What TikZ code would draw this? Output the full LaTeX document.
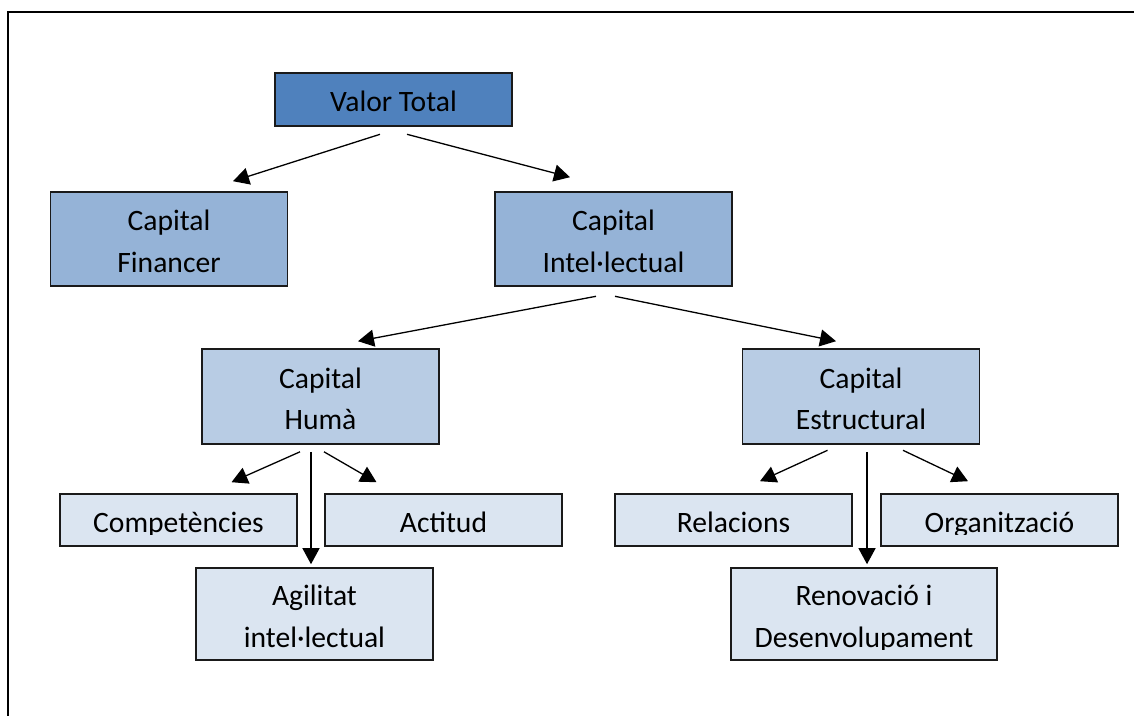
\documentclass[tikz,border=0pt]{standalone}
\usepackage{fontspec}
\setmainfont{Carlito}
\usetikzlibrary{arrows.meta,calc}
\definecolor{accentA}{HTML}{4F81BD}
\definecolor{tintB}{HTML}{95B3D7}
\definecolor{tintC}{HTML}{B8CCE4}
\definecolor{tintD}{HTML}{DBE5F1}
\definecolor{edge}{HTML}{1A1A1A}
\begin{document}
\begin{tikzpicture}[x=1pt,y=-1pt,
  box/.style={rectangle,draw=edge,line width=1.6pt,minimum width=237pt,inner sep=0pt},
  short/.style={box,minimum height=52pt},
  tall/.style={box,minimum height=94pt},
  txt/.style={font=\fontsize{29.6}{35}\selectfont,anchor=base,inner sep=0pt},
  link/.style={line width=1.3pt,-{Triangle[length=16pt,width=17pt]}}]
\useasboundingbox (0,0) rectangle (1134,715);

% outer frame (runs past the right and bottom edges)
\draw[line width=2.2pt] (8,730) -- (8,12) -- (1150,12);

% boxes
\node[short,fill=accentA,minimum height=53pt] (vt) at (393.5,99.5) {};
\node[tall,fill=tintB] (cf) at (169,239) {};
\node[tall,fill=tintB] (ci) at (613.5,239) {};
\node[tall,fill=tintC,minimum height=95pt] (ch) at (320.5,396.5) {};
\node[tall,fill=tintC,minimum height=95pt] (ce) at (861,396.5) {};
\node[short,fill=tintD] (comp) at (178.5,520) {};
\node[short,fill=tintD] (act) at (443.5,520) {};
\node[short,fill=tintD] (rel) at (733.5,520) {};
\node[short,fill=tintD] (org) at (999.5,520) {};
\node[tall,fill=tintD,minimum height=92pt] (agi) at (314.5,614) {};
\node[tall,fill=tintD,minimum height=92pt,minimum width=266pt] (ren) at (864,614) {};

% box texts
\node[txt] at ($(vt.center)+(0,12.2)$) {Valor Total};
\node[txt] at ($(cf.center)+(0,-9)$) {Capital};
\node[txt] at ($(cf.center)+(0,33)$) {Financer};
\node[txt] at ($(ci.center)+(0,-9)$) {Capital};
\node[txt] at ($(ci.center)+(0,33)$) {Intel·lectual};
\node[txt] at ($(ch.center)+(0,-8.5)$) {Capital};
\node[txt] at ($(ch.center)+(0,33.2)$) {Humà};
\node[txt] at ($(ce.center)+(0,-8.5)$) {Capital};
\node[txt] at ($(ce.center)+(0,33.2)$) {Estructural};
\begin{scope}
  \clip (comp.north west) rectangle ($(comp.east)+(0,14)$);
  \node[txt] at ($(comp.center)+(0,12)$) {Competències};
\end{scope}
\node[txt] at ($(act.center)+(0,12)$) {Actitud};
\node[txt] at ($(rel.center)+(0,12)$) {Relacions};
\begin{scope}
  \clip (org.north west) rectangle ($(org.east)+(0,14)$);
  \node[txt] at ($(org.center)+(0,12)$) {Organització};
\end{scope}
\node[txt] at ($(agi.center)+(0,-9)$) {Agilitat};
\node[txt] at ($(agi.center)+(0,33)$) {intel·lectual};
\node[txt] at ($(ren.center)+(0,-9)$) {Renovació i};
\begin{scope}
  \clip (ren.north west) rectangle ($(ren.east)+(0,35)$);
  \node[txt] at ($(ren.center)+(0,33)$) {Desenvolupament};
\end{scope}

% connector ends
\coordinate (vtL) at ($(vt.south)+(-13.5,7.5)$);
\coordinate (vtR) at ($(vt.south)+(13.5,7.5)$);
\coordinate (cfIn) at ($(cf.north)+(64,-10)$);
\coordinate (ciIn) at ($(ci.north)+(-43.5,-14)$);
\coordinate (ciL) at ($(ci.south)+(-17.5,9.5)$);
\coordinate (ciR) at ($(ci.south)+(1.5,9.5)$);
\coordinate (chIn) at ($(ch.north)+(37.5,-7)$);
\coordinate (ceIn) at ($(ce.north)+(-25,-7)$);
\coordinate (chL) at ($(ch.south)+(-20.5,7)$);
\coordinate (chM) at ($(ch.south)+(-9.5,7)$);
\coordinate (chR) at ($(ch.south)+(3.5,7)$);
\coordinate (compIn) at ($(comp.north)+(53,-11)$);
\coordinate (actIn) at ($(act.north)+(-67,-11)$);
\coordinate (agiIn) at ($(agi.north)+(-3.5,-3)$);
\coordinate (ceL) at ($(ce.south)+(-33.5,5.5)$);
\coordinate (ceM) at ($(ce.south)+(6,7)$);
\coordinate (ceR) at ($(ce.south)+(42,5.5)$);
\coordinate (relIn) at ($(rel.north)+(26.5,-12)$);
\coordinate (orgIn) at ($(org.north)+(-31.5,-12)$);
\coordinate (renIn) at ($(ren.north)+(3,-3)$);

% connectors
\draw[link] (vtL) -- (cfIn);
\draw[link] (vtR) -- (ciIn);
\draw[link] (ciL) -- (chIn);
\draw[link] (ciR) -- (ceIn);
\draw[link] (chL) -- (compIn);
\draw[link] (chM) -- (agiIn);
\draw[link] (chR) -- (actIn);
\draw[link] (ceL) -- (relIn);
\draw[link] (ceM) -- (renIn);
\draw[link] (ceR) -- (orgIn);
\end{tikzpicture}
\end{document}
